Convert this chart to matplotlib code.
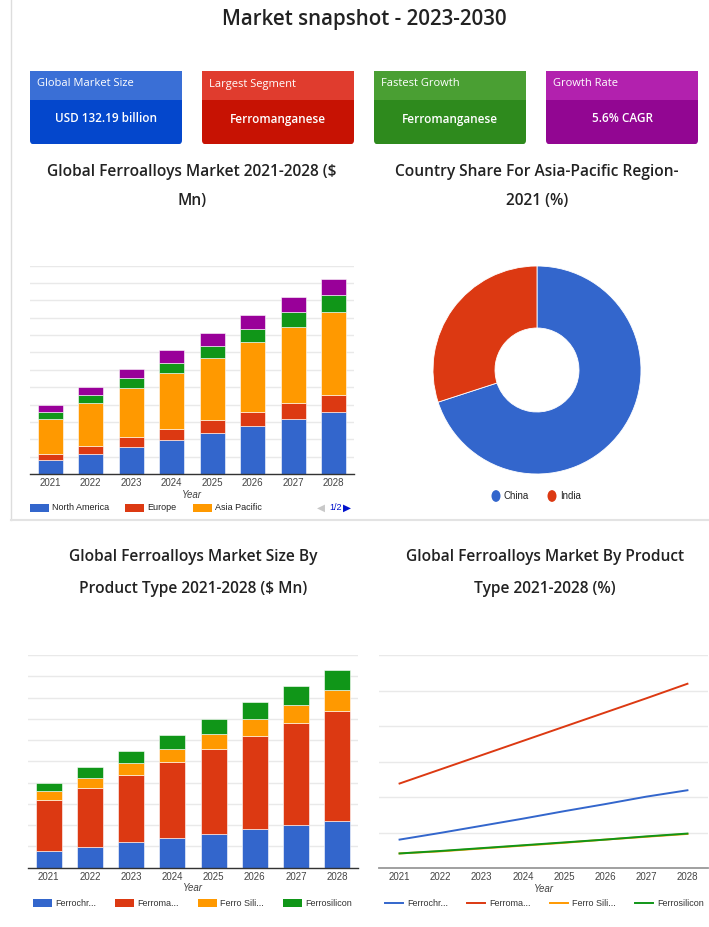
import matplotlib
matplotlib.use("Agg")
import matplotlib.pyplot as plt
from matplotlib.patches import FancyBboxPatch, Rectangle, Circle
from matplotlib.lines import Line2D
import numpy as np

W, H = 709, 927

# ---------------- data ----------------
title = "Market snapshot - 2023-2030"
card_titles = ["Global Market Size", "Largest Segment", "Fastest Growth", "Growth Rate"]
card_values = ["USD 132.19 billion", "Ferromanganese", "Ferromanganese", "5.6% CAGR"]

years = ["2021", "2022", "2023", "2024", "2025", "2026", "2027", "2028"]

region_labels = ["North America", "Europe", "Asia Pacific", "Latin America", "Middle East & Africa"]
north_america = [0.79, 1.17, 1.56, 1.96, 2.38, 2.77, 3.15, 3.58]
europe = [0.36, 0.46, 0.56, 0.66, 0.72, 0.81, 0.93, 0.96]
asia_pacific = [2.00, 2.45, 2.84, 3.19, 3.57, 4.02, 4.38, 4.79]
latin_america = [0.43, 0.46, 0.56, 0.61, 0.70, 0.75, 0.87, 0.96]
mea = [0.40, 0.50, 0.54, 0.70, 0.75, 0.82, 0.86, 0.96]

countries = ["China", "India"]
country_share = [70, 30]

product_labels = ["Ferrochr...", "Ferroma...", "Ferro Sili...", "Ferrosilicon"]
ferrochrome = [0.80, 0.99, 1.19, 1.39, 1.60, 1.80, 2.01, 2.19]
ferromanganese = [2.38, 2.78, 3.18, 3.58, 3.98, 4.38, 4.78, 5.19]
ferro_silico_mn = [0.41, 0.47, 0.55, 0.63, 0.71, 0.80, 0.88, 0.96]
ferrosilicon = [0.41, 0.48, 0.56, 0.64, 0.72, 0.80, 0.89, 0.97]

# ---------------- style ----------------
BLUE, RED, ORANGE, GREEN, PURPLE = "#3366cc", "#dc3912", "#ff9900", "#109618", "#990099"
region_colors = [BLUE, RED, ORANGE, GREEN, PURPLE]
product_colors = [BLUE, RED, ORANGE, GREEN]
card_head = ["#3a6fd6", "#e03c2e", "#4a9f33", "#b221ae"]
card_body = ["#0447cc", "#c71203", "#2e8a1d", "#920692"]

TFONT = ["Open Sans", "DejaVu Sans"]
CFONT = ["Liberation Sans", "DejaVu Sans"]

fig = plt.figure(figsize=(W / 100, H / 100), dpi=100)
fig.patch.set_facecolor("white")


def fx(x):
    return x / W


def fy(y):
    return 1 - y / H


def ax_px(x0, y0, x1, y1):
    return fig.add_axes([fx(x0), fy(y1), (x1 - x0) / W, (y1 - y0) / H])


# frame lines of top section
fig.add_artist(Line2D([fx(11), fx(11)], [fy(0), fy(520)], color="#dddddd", lw=1))
fig.add_artist(Line2D([fx(11), fx(709)], [fy(520), fy(520)], color="#e3e3e3", lw=1.5))

fig.text(fx(364), fy(19), title, ha="center", va="center", fontsize=14.8,
         family=TFONT, fontweight="semibold", color="#222222")

# cards
card_x = [30, 202, 374, 546]
for i, x0 in enumerate(card_x):
    x1 = x0 + 152
    body = FancyBboxPatch((fx(x0), fy(144)), (x1 - x0) / W, (144 - 71) / H,
                          boxstyle="round,pad=0,rounding_size=0.004",
                          transform=fig.transFigure, fc=card_body[i], ec="none")
    fig.add_artist(body)
    head = Rectangle((fx(x0), fy(100)), (x1 - x0) / W, (100 - 71) / H,
                     transform=fig.transFigure, fc=card_head[i], ec="none")
    fig.add_artist(head)
    fig.text(fx(x0 + 7), fy(84), card_titles[i], ha="left", va="center",
             fontsize=8, family=TFONT, color="white")
    fig.text(fx(x0 + 76), fy(119), card_values[i], ha="center", va="center",
             fontsize=8.5, family=TFONT, color="white", fontweight="semibold")

# chart titles
def chart_title(xc, lines, ys):
    for t, y in zip(lines, ys):
        fig.text(fx(xc), fy(y), t, ha="center", va="center", fontsize=11.2,
                 family=TFONT, fontweight="semibold", color="#222222")

chart_title(192, ["Global Ferroalloys Market 2021-2028 ($", "Mn)"], [172, 201])
chart_title(537, ["Country Share For Asia-Pacific Region-", "2021 (%)"], [172, 201])
chart_title(193, ["Global Ferroalloys Market Size By", "Product Type 2021-2028 ($ Mn)"], [557, 589])
chart_title(545, ["Global Ferroalloys Market By Product", "Type 2021-2028 (%)"], [557, 589])


def style_axes(ax, ymax, base_color="#333333", base_lw=1.0):
    ax.set_ylim(0, ymax)
    ax.set_xlim(-0.5, 7.5)
    ax.set_yticks(np.arange(0, ymax + 0.01, 1))
    ax.set_yticklabels([])
    ax.tick_params(axis="y", length=0)
    ax.tick_params(axis="x", length=0, labelsize=7, labelcolor="#444444", pad=3)
    ax.grid(axis="y", color="#e9e9e9", lw=1)
    ax.set_axisbelow(True)
    for s in ["top", "right", "left"]:
        ax.spines[s].set_visible(False)
    ax.spines["bottom"].set_color(base_color)
    ax.spines["bottom"].set_linewidth(base_lw)
    ax.set_xticks(range(len(years)))
    ax.set_xticklabels(years, family=CFONT)
    ax.set_xlabel("Year", fontsize=7, style="italic", color="#444444", family=CFONT, labelpad=1)
    ax.set_facecolor("none")


# ---- chart 1: stacked bars by region ----
ax1 = ax_px(30, 265.7, 354, 474)
x = np.arange(len(years))
bottom = np.zeros(len(years))
for vals, c, lab in zip([north_america, europe, asia_pacific, latin_america, mea], region_colors, region_labels):
    ax1.bar(x, vals, bottom=bottom, width=0.62, color=c, edgecolor="white", linewidth=0.4, label=lab)
    bottom += np.array(vals)
style_axes(ax1, 12)

# legend chart 1 (page 1 of 2)
leg1_x = [30, 125, 193]
for lab, c, lx in zip(region_labels[:3], region_colors[:3], leg1_x):
    fig.add_artist(Rectangle((fx(lx), fy(512)), 19 / W, 8 / H, transform=fig.transFigure, fc=c, ec="none"))
    fig.text(fx(lx + 22), fy(508), lab, ha="left", va="center", fontsize=6.5, family=CFONT, color="#222222")
fig.text(fx(317), fy(508), "◀", ha="left", va="center", fontsize=7.5, color="#c8c8c8", family=["DejaVu Sans"])
fig.text(fx(329), fy(508), "1/2", ha="left", va="center", fontsize=6.5, color="#0011cc", family=CFONT)
fig.text(fx(343), fy(508), "▶", ha="left", va="center", fontsize=7.5, color="#0011cc", family=["DejaVu Sans"])

# ---- chart 2: donut ----
R = 104
cx, cy = 537, 370
ax2 = ax_px(cx - R - 2, cy - R - 2, cx + R + 2, cy + R + 2)
ax2.pie(country_share, colors=[BLUE, RED], startangle=90, counterclock=False,
        radius=R / (R + 2), wedgeprops=dict(width=(R - 42) / (R + 2), edgecolor="white", linewidth=0.6))
ax2.set_aspect("equal")
ax2.set_xlim(-1, 1)
ax2.set_ylim(-1, 1)
ax2.axis("off")

leg2 = [(496, countries[0], BLUE), (552, countries[1], RED)]
for lx, lab, c in leg2:
    fig.add_artist(Circle((fx(lx), fy(496)), 4.5 / W, transform=fig.transFigure, fc=c, ec="none"))
    fig.text(fx(lx + 8), fy(496), lab, ha="left", va="center", fontsize=7, family=CFONT, color="#222222")

# ---- chart 3: stacked bars by product ----
ax3 = ax_px(28, 655, 358, 867.7)
bottom = np.zeros(len(years))
for vals, c, lab in zip([ferrochrome, ferromanganese, ferro_silico_mn, ferrosilicon], product_colors, product_labels):
    ax3.bar(x, vals, bottom=bottom, width=0.625, color=c, edgecolor="white", linewidth=0.4, label=lab)
    bottom += np.array(vals)
style_axes(ax3, 10)

leg3_x = [33, 115, 198, 283]
for lab, c, lx in zip(product_labels, product_colors, leg3_x):
    fig.add_artist(Rectangle((fx(lx), fy(907)), 19 / W, 8 / H, transform=fig.transFigure, fc=c, ec="none"))
    fig.text(fx(lx + 22), fy(903), lab, ha="left", va="center", fontsize=6.5, family=CFONT, color="#333333")

# ---- chart 4: lines by product ----
ax4 = ax_px(379, 655, 708, 868)
for vals, c, lab in zip([ferrochrome, ferromanganese, ferro_silico_mn, ferrosilicon], product_colors, product_labels):
    ax4.plot(x, vals, color=c, lw=1.4, label=lab)
style_axes(ax4, 6, base_color="#999999", base_lw=1.3)

leg4_x = [385, 467, 550, 635]
for lab, c, lx in zip(product_labels, product_colors, leg4_x):
    fig.add_artist(Line2D([fx(lx), fx(lx + 18)], [fy(903), fy(903)], color=c, lw=1.4))
    fig.text(fx(lx + 22), fy(903), lab, ha="left", va="center", fontsize=6.5, family=CFONT, color="#333333")

fig.savefig("out.png", dpi=100, facecolor="white")
